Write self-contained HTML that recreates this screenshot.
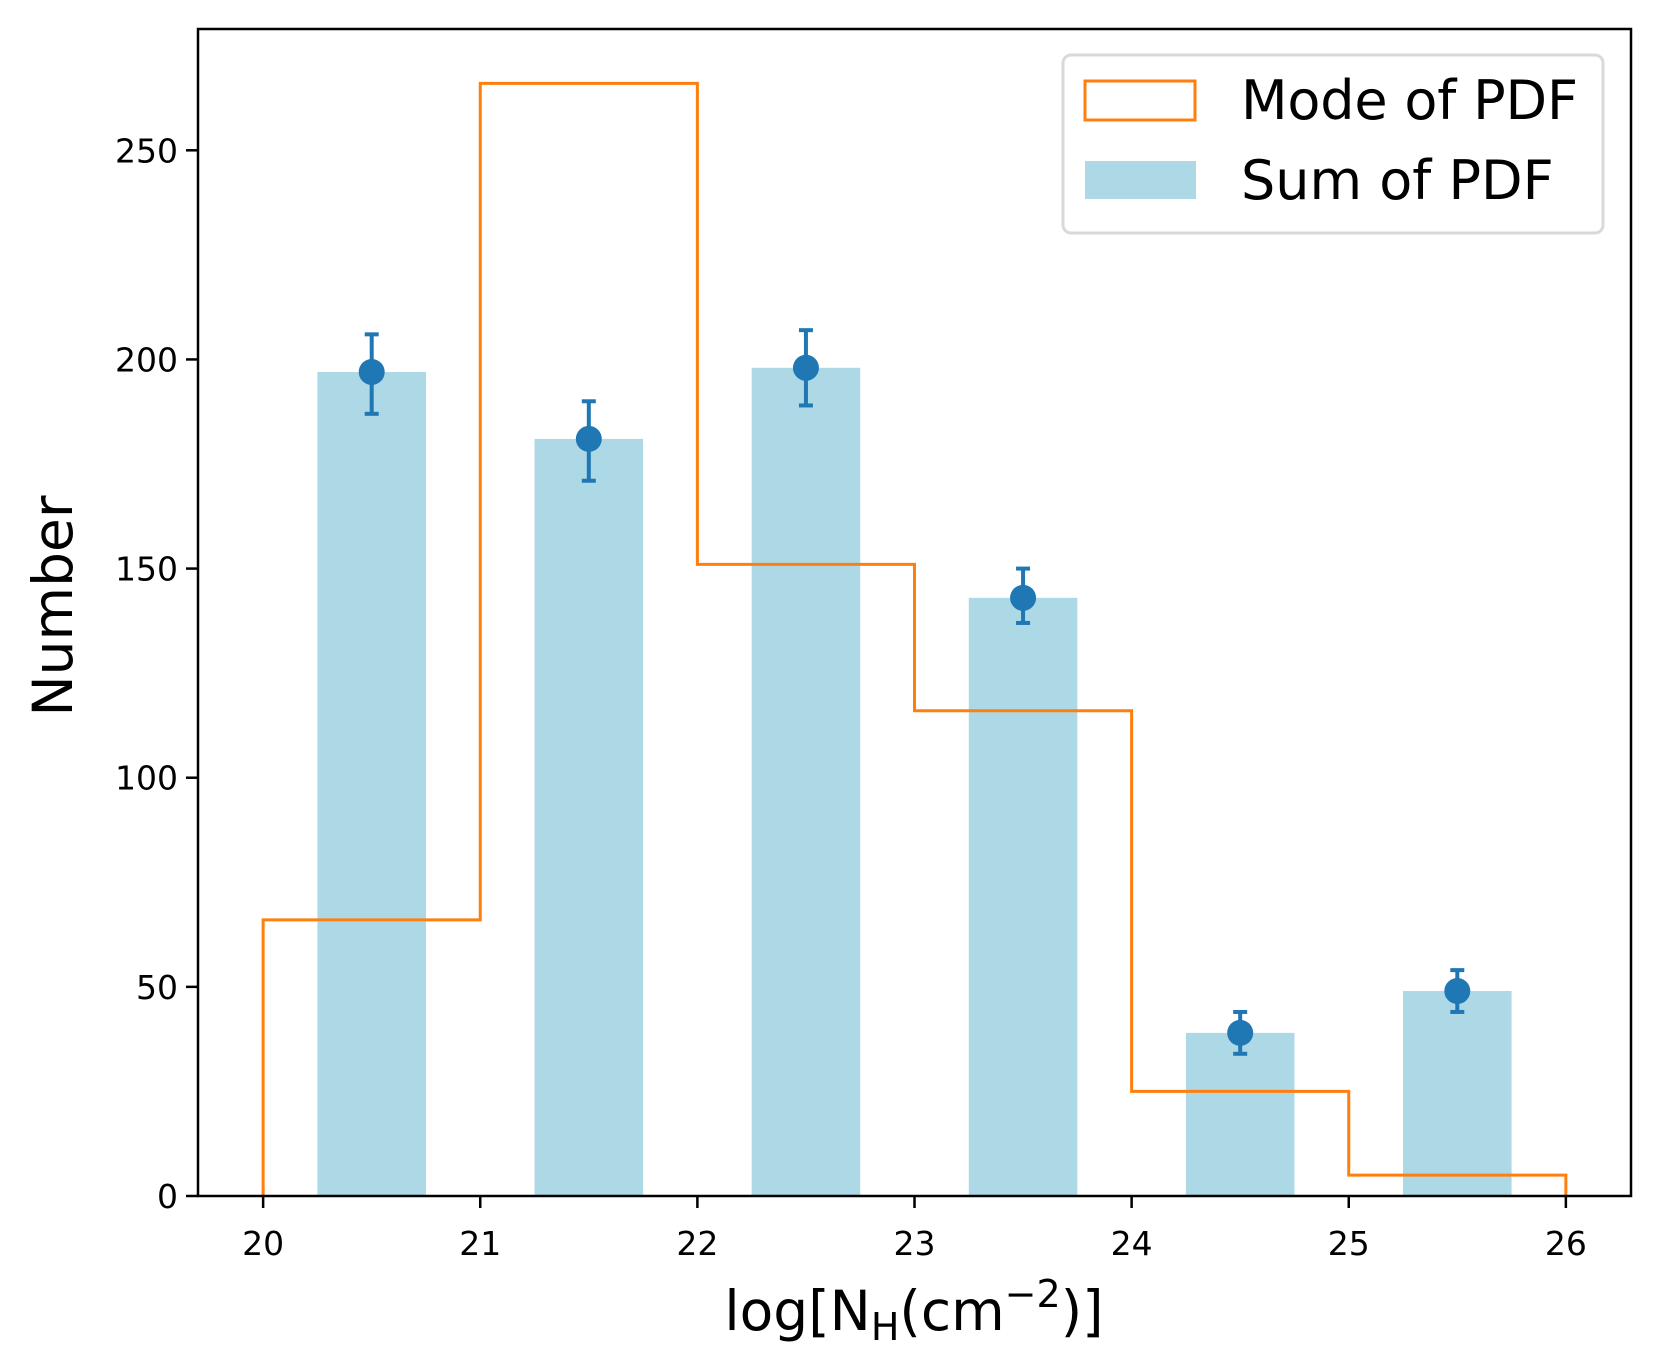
<!DOCTYPE html>
<html><head><meta charset="utf-8"><style>
html,body{margin:0;padding:0;background:#fff}
svg{display:block;font-family:"DejaVu Sans","Liberation Sans",sans-serif}
</style></head><body>
<svg id="chart" width="1659" height="1367" viewBox="0 0 1659 1367">
<rect x="0" y="0" width="1659" height="1367" fill="#fff"/>
<g id="plot"></g>
<g id="axes"></g>
<g>
<rect x="1063" y="55" width="540" height="178" rx="8" fill="#fff" fill-opacity="0.8" stroke="#d9d9d9" stroke-width="3"/>
<rect x="1085" y="81" width="110" height="39" fill="none" stroke="#ff7f0e" stroke-width="3"/>
<text x="1241" y="119" font-size="54" textLength="337">Mode of PDF</text>
<rect x="1085" y="161" width="111" height="38" fill="#add8e6"/>
<text x="1241" y="199" font-size="54">Sum of PDF</text>
</g>
<text x="914" y="1330" font-size="55" text-anchor="middle">log[N<tspan font-size="38" dy="10">H</tspan><tspan dy="-10">(cm</tspan><tspan font-size="38" dy="-23">−2</tspan><tspan dy="23">)]</tspan></text>
<text transform="translate(72,606) rotate(-90)" font-size="55" text-anchor="middle">Number</text>
</svg>
<script>
const binEdges = [20,21,22,23,24,25,26];
const modeCounts = [66,266,151,116,25,5];
const sumCenters = [20.5,21.5,22.5,23.5,24.5,25.5];
const sumValues = [197,181,198,143,39,49];
const errLow = [187,171,189,137,34,44];
const errHigh = [206,190,207,150,44,54];
const xTicks = [20,21,22,23,24,25,26];
const yTicks = [0,50,100,150,200,250];

const L=198,R=1631,T=29,B=1196;
const xmin=19.7,xmax=26.3,ymin=0,ymax=279;
const sx=v=>L+(v-xmin)/(xmax-xmin)*(R-L);
const sy=v=>B-(v-ymin)/(ymax-ymin)*(B-T);
const NS='http://www.w3.org/2000/svg';
function mk(tag,attrs,parent){const e=document.createElementNS(NS,tag);for(const k in attrs)e.setAttribute(k,attrs[k]);parent.appendChild(e);return e;}
const plot=document.getElementById('plot'), axes=document.getElementById('axes');

sumCenters.forEach((c,i)=>{
  const r=mk('rect',{x:sx(c-0.25),y:sy(sumValues[i]),width:sx(c+0.25)-sx(c-0.25),height:sy(0)-sy(sumValues[i]),fill:'#add8e6'},plot);
  
  
});
let d='M'+sx(binEdges[0])+','+sy(0);
modeCounts.forEach((v,i)=>{d+=' L'+sx(binEdges[i])+','+sy(v)+' L'+sx(binEdges[i+1])+','+sy(v);});
d+=' L'+sx(binEdges[binEdges.length-1])+','+sy(0);
const st=mk('path',{d:d,fill:'none',stroke:'#ff7f0e','stroke-width':3},plot);


sumCenters.forEach((c,i)=>{
  const g=mk('g',{stroke:'#1f77b4','stroke-width':4},plot);
  
  
  mk('line',{x1:sx(c),x2:sx(c),y1:sy(errLow[i]),y2:sy(errHigh[i])},g);
  mk('line',{x1:sx(c)-7,x2:sx(c)+7,y1:sy(errLow[i]),y2:sy(errLow[i])},g);
  mk('line',{x1:sx(c)-7,x2:sx(c)+7,y1:sy(errHigh[i]),y2:sy(errHigh[i])},g);
  const p=mk('circle',{cx:sx(c),cy:sy(sumValues[i]),r:13,fill:'#1f77b4'},plot);
  
  
});
const fr=mk('rect',{x:L,y:T,width:R-L,height:B-T,fill:'none',stroke:'#000','stroke-width':2.5},axes);


xTicks.forEach(t=>{
  mk('line',{x1:sx(t),x2:sx(t),y1:B,y2:B+12,stroke:'#000','stroke-width':2.5},axes);
  const tx=mk('text',{x:sx(t),y:1255,'font-size':33,'text-anchor':'middle'},axes);
  tx.textContent=t;
  
  
});
yTicks.forEach(t=>{
  mk('line',{x1:L-12,x2:L,y1:sy(t),y2:sy(t),stroke:'#000','stroke-width':2.5},axes);
  const tx=mk('text',{x:L-20,y:sy(t)+12,'font-size':33,'text-anchor':'end'},axes);
  tx.textContent=t;
  
  
});
</script>
</body></html>
